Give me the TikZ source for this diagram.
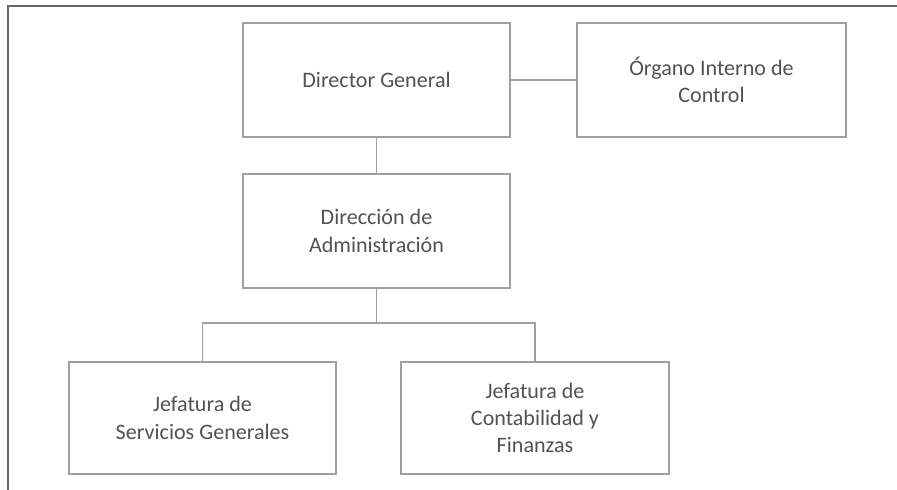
\documentclass[tikz,border=0pt]{standalone}
\usepackage{fontspec}
\setmainfont{Carlito}
\usepackage{tikz}

\begin{document}
\begin{tikzpicture}[
  puesto/.style={draw=gray!75, line width=0.8pt, minimum width=6.675cm, minimum height=2.85cm, align=center, text=black!68, font=\fontsize{15.7}{19.5}\selectfont},
  linea/.style={draw=gray!75, line width=0.8pt}
]
\useasboundingbox (0,0) rectangle (22.425,12.25);
\draw[gray!80!black, line width=1pt] (0.2,0) -- (0.2,12.1) -- (22.425,12.1);
\node[puesto] (dg) at (9.4125,10.25) {Director General};
\node[puesto, minimum width=6.725cm] (oic) at (17.7875,10.25) {Órgano Interno de\\Control};
\node[puesto] (da) at (9.4125,6.475) {Dirección de\\Administración};
\node[puesto, minimum height=2.8cm] (jsg) at (5.0625,1.8) {Jefatura de\\Servicios Generales};
\node[puesto, minimum width=6.7cm, minimum height=2.8cm] (jcf) at (13.375,1.8) {Jefatura de\\Contabilidad y\\Finanzas};
\coordinate (bus) at (9.4125,4.175);
\draw[linea] (dg) -- (oic);
\draw[linea] (dg) -- (da);
\draw[linea] (da) -- (bus);
\draw[linea] (jsg.north) |- (bus) -| (jcf.north);
\end{tikzpicture}
\end{document}
